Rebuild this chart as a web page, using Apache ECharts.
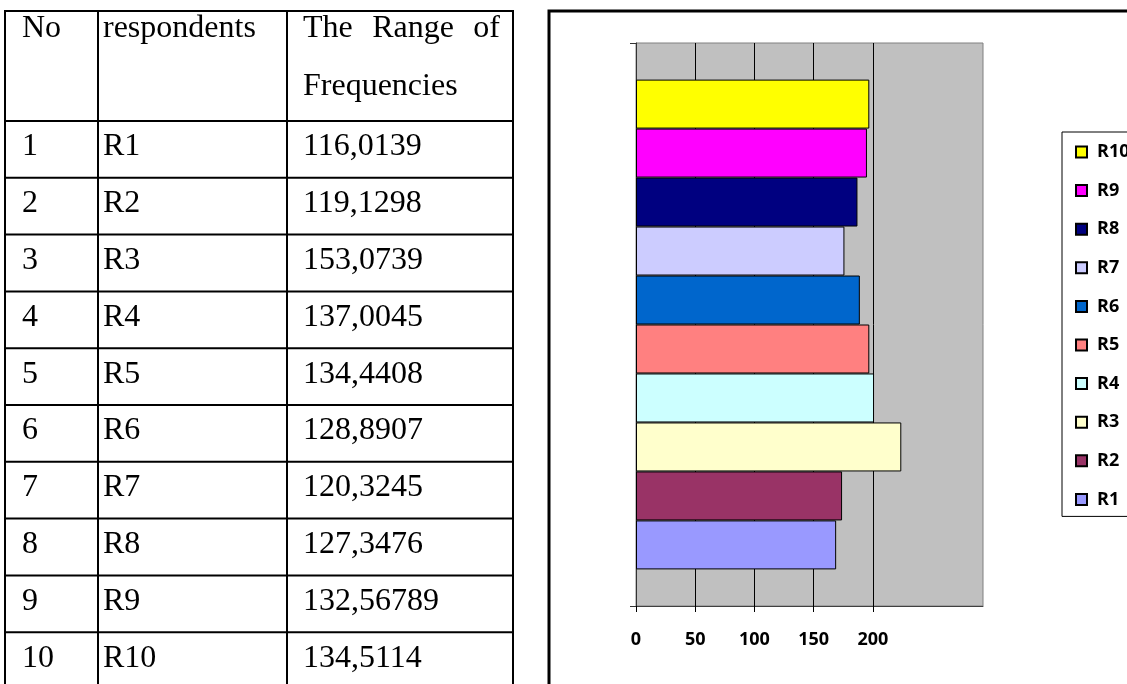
<!DOCTYPE html>
<html>
<head>
<meta charset="utf-8">
<title>The Range of Frequencies</title>
<script src="https://cdn.jsdelivr.net/npm/echarts@6/dist/echarts.min.js"></script>
<style>
  html, body { margin: 0; padding: 0; background: #ffffff; }
  #main { width: 1127px; height: 684px; }
</style>
</head>
<body>
<div id="main"></div>
<script>
// Table contents
const rowNumbers = ['1', '2', '3', '4', '5', '6', '7', '8', '9', '10'];
const respondents = ['R1', 'R2', 'R3', 'R4', 'R5', 'R6', 'R7', 'R8', 'R9', 'R10'];
const frequencyRanges = ['116,0139', '119,1298', '153,0739', '137,0045', '134,4408',
  '128,8907', '120,3245', '127,3476', '132,56789', '134,5114'];
const headerNo = 'No';
const headerRespondents = 'respondents';
const headerRangeWords = ['The', 'Range', 'of'];
const headerRangeLine2 = 'Frequencies';

// Bar chart values, one series per respondent (read on the chart's own axis)
const barValues = [169, 174, 224, 201, 197, 189, 176, 187, 195, 197];
const barColors = ['#9999FF', '#993366', '#FFFFCC', '#CCFFFF', '#FF8080',
  '#0066CC', '#CCCCFF', '#000080', '#FF00FF', '#FFFF00'];
const axisTickValues = [0, 50, 100, 150, 200];

// ---- table drawn as graphic elements ----
const colX = [5, 98, 287, 513];
const tableTop = 11;
const headerBottom = 121;
const rowHeight = 56.8;
const serif = '"Liberation Serif", "Times New Roman", serif';
const cellFont = { fontFamily: serif, fontSize: 32, fill: '#000' };

const graphics = [];
function hLine(y) {
  graphics.push({ type: 'line', silent: true,
    shape: { x1: colX[0] - 1, y1: y, x2: colX[3] + 1, y2: y },
    style: { stroke: '#000', lineWidth: 2 } });
}
function vLine(x) {
  graphics.push({ type: 'line', silent: true,
    shape: { x1: x, y1: tableTop - 1, x2: x, y2: 700 },
    style: { stroke: '#000', lineWidth: 2 } });
}
function cellText(text, x, y, align) {
  graphics.push({ type: 'text', silent: true, x: x, y: y,
    style: Object.assign({ text: text, textAlign: align || 'left', textVerticalAlign: 'middle' }, cellFont) });
}

hLine(tableTop);
for (let i = 0; i <= rowNumbers.length; i++) hLine(headerBottom + i * rowHeight);
colX.forEach(vLine);

// header row; the third heading is justified across its cell
cellText(headerNo, 22, 29);
cellText(headerRespondents, 103, 29);
cellText(headerRangeWords[0], 303, 29);
cellText(headerRangeWords[1], 413, 29, 'center');
cellText(headerRangeWords[2], 500, 29, 'right');
cellText(headerRangeLine2, 303, 87);

rowNumbers.forEach(function (no, i) {
  const y = headerBottom + i * rowHeight + 26;
  cellText(no, 22, y);
  cellText(respondents[i], 103, y);
  cellText(frequencyRanges[i], 303, y);
});

// frame around the chart
graphics.push({ type: 'rect', silent: true,
  shape: { x: 549, y: 11, width: 700, height: 720 },
  style: { fill: 'none', stroke: '#000', lineWidth: 3 } });

// ---- bar chart ----
const labelFont = '"Open Sans", "DejaVu Sans", sans-serif';
const series = respondents.map(function (name, i) {
  return {
    name: name,
    type: 'bar',
    data: [barValues[i]],
    barGap: '0%',
    barCategoryGap: '13%',
    itemStyle: { color: barColors[i], borderColor: '#000', borderWidth: 1 },
    emphasis: { disabled: true },
    animation: false
  };
}).reverse();

const chart = echarts.init(document.getElementById('main'), null, { renderer: 'canvas' });
chart.setOption({
  animation: false,
  backgroundColor: '#ffffff',
  graphic: graphics,
  grid: {
    left: 636, top: 43, width: 347, height: 563,
    show: true, backgroundColor: '#C0C0C0', borderColor: '#808080', borderWidth: 1
  },
  xAxis: {
    type: 'value', min: 0, max: 293, interval: 50,
    axisLine: { show: true, lineStyle: { color: '#404040', width: 1 } },
    axisTick: { show: true, length: 6, customValues: axisTickValues, lineStyle: { color: '#000' } },
    axisLabel: {
      customValues: axisTickValues, margin: 25,
      fontFamily: labelFont, fontWeight: 'bold', fontSize: 18, color: '#000'
    },
    splitLine: { show: true, lineStyle: { color: '#000', width: 1 } }
  },
  yAxis: {
    type: 'category', data: [''],
    axisLine: { show: true, lineStyle: { color: '#333', width: 1 } },
    axisTick: { show: true, length: 6, lineStyle: { color: '#333' } },
    axisLabel: { show: false },
    splitLine: { show: false }
  },
  legend: {
    orient: 'vertical',
    left: 1062, top: 132,
    data: respondents.slice().reverse(),
    icon: 'rect',
    itemWidth: 11, itemHeight: 11, itemGap: 20.6,
    padding: [11, 40, 8, 13],
    borderColor: '#000', borderWidth: 1,
    selectedMode: false,
    textStyle: { fontFamily: labelFont, fontWeight: 'bold', fontSize: 18, lineHeight: 18,
      color: '#000', padding: [0, 0, 0, 5] }
  },
  series: series
});
</script>
</body>
</html>
